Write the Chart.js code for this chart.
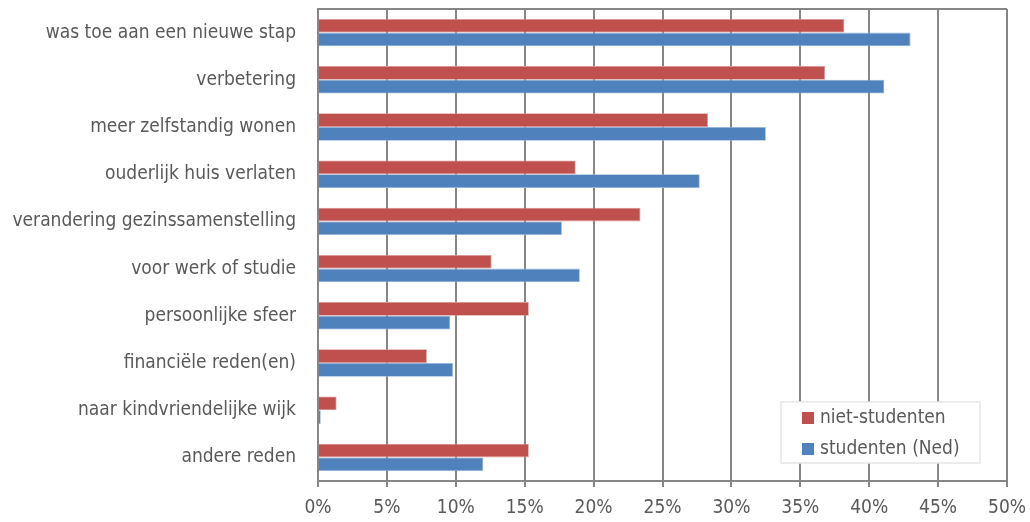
<!DOCTYPE html>
<html>
<head>
<meta charset="utf-8">
<script src="https://cdn.jsdelivr.net/npm/chart.js@4"></script>
<style>
  html, body { margin: 0; padding: 0; background: #fff; }
  #wrap { width: 1030px; height: 522px; }
</style>
</head>
<body>
<div id="wrap"><canvas id="redenChart" width="1030" height="522"></canvas></div>
<script>
const categories = [
    "was toe aan een nieuwe stap",
    "verbetering",
    "meer zelfstandig wonen",
    "ouderlijk huis verlaten",
    "verandering gezinssamenstelling",
    "voor werk of studie",
    "persoonlijke sfeer",
    "financiële reden(en)",
    "naar kindvriendelijke wijk",
    "andere reden"
];
const nietStudenten = [38.2, 36.8, 28.3, 18.7, 23.4, 12.6, 15.3, 7.9, 1.35, 15.3];
const studentenNed = [43.0, 41.1, 32.5, 27.7, 17.7, 19.0, 9.6, 9.8, 0.2, 12.0];
const seriesNames = ["niet-studenten", "studenten (Ned)"];
const xTicks = [0, 5, 10, 15, 20, 25, 30, 35, 40, 45, 50];

const FONT = "'DejaVu Sans Condensed', 'Liberation Sans', sans-serif";
const GRID = '#868686';
const TEXT = '#595959';

// legend box inside the plot, bottom right
const legendBox = {
    id: 'legendBox',
    afterDraw(chart) {
        const ctx = chart.ctx;
        const x = 781, y = 402, w = 199, h = 61;
        ctx.save();
        ctx.fillStyle = '#fff';
        ctx.fillRect(x, y, w, h);
        ctx.strokeStyle = '#e6e6e6';
        ctx.lineWidth = 1.5;
        ctx.strokeRect(x, y, w, h);
        ctx.font = '19px ' + FONT;
        ctx.textBaseline = 'middle';
        chart.data.datasets.forEach((ds, i) => {
            const cy = y + 16 + i * 31;
            ctx.fillStyle = ds.backgroundColor;
            ctx.fillRect(x + 21, cy - 6, 12, 12);
            ctx.fillStyle = TEXT;
            ctx.fillText(ds.label, x + 39, cy);
        });
        ctx.restore();
    }
};

// top edge of the plot frame
const topFrame = {
    id: 'topFrame',
    beforeDatasetsDraw(chart) {
        const a = chart.chartArea, ctx = chart.ctx;
        ctx.save();
        ctx.strokeStyle = GRID;
        ctx.lineWidth = 2;
        ctx.beginPath();
        ctx.moveTo(a.left, a.top);
        ctx.lineTo(a.right, a.top);
        ctx.stroke();
        ctx.restore();
    }
};

new Chart(document.getElementById('redenChart'), {
    type: 'bar',
    data: {
        labels: categories,
        datasets: [
            { label: seriesNames[0], data: nietStudenten, backgroundColor: '#C0504D', borderColor: '#D99694', borderWidth: 0.8 },
            { label: seriesNames[1], data: studentenNed, backgroundColor: '#4F81BD', borderColor: '#95B3D7', borderWidth: 0.8 }
        ]
    },
    options: {
        indexAxis: 'y',
        responsive: false,
        animation: false,
        layout: { padding: { top: 9, right: 23, left: 0, bottom: 0 } },
        datasets: { bar: { categoryPercentage: 0.58, barPercentage: 1.0 } },
        plugins: { legend: { display: false }, tooltip: { enabled: false } },
        scales: {
            x: {
                min: 0, max: 50,
                afterBuildTicks: s => { s.ticks = xTicks.map(v => ({ value: v })); },
                afterFit: s => { s.height = 41; s.paddingLeft = 0; s.paddingRight = 0; },
                grid: { color: GRID, lineWidth: 2, tickLength: 6, drawTicks: true },
                border: { color: GRID, width: 2 },
                ticks: {
                    color: TEXT,
                    font: { family: FONT, size: 19 },
                    padding: 10,
                    maxRotation: 0,
                    callback: v => v + '%'
                }
            },
            y: {
                afterFit: s => { s.width = 318; s.paddingTop = 0; s.paddingBottom = 0; },
                grid: { display: false, drawTicks: false },
                border: { color: GRID, width: 2 },
                ticks: {
                    color: TEXT,
                    font: { family: FONT, size: 19 },
                    padding: 22
                }
            }
        }
    },
    plugins: [topFrame, legendBox]
});
</script>
</body>
</html>
